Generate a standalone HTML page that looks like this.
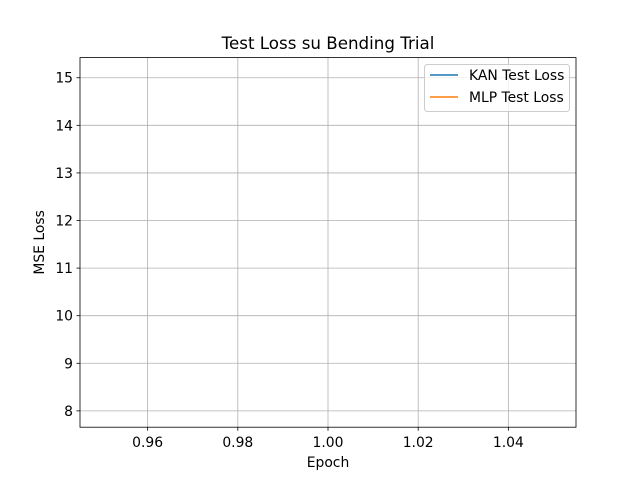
<!DOCTYPE html>
<html><head><meta charset="utf-8"><style>
body{margin:0;background:#fff;}
svg{display:block;font-family:"DejaVu Sans","Liberation Sans",sans-serif;}
</style></head><body>
<svg id="chart" width="640" height="480"></svg>
<script>
const epochs = [1];
const kanLoss = [15.07];
const mlpLoss = [8.01];
const xTicks = [0.96, 0.98, 1.00, 1.02, 1.04];
const yTicks = [8, 9, 10, 11, 12, 13, 14, 15];
const seriesNames = ["KAN Test Loss", "MLP Test Loss"];

const L=80, R=576, T=57.6, B=427.2;
const NS="http://www.w3.org/2000/svg";
const svg=document.getElementById('chart');
function el(tag, attrs, parent){const e=document.createElementNS(NS,tag);for(const k in attrs)e.setAttribute(k,attrs[k]);(parent||svg).appendChild(e);return e;}
const allY=kanLoss.concat(mlpLoss);
let ymin=Math.min(...allY), ymax=Math.max(...allY);
let xmin=Math.min(...epochs), xmax=Math.max(...epochs);
if(xmin===xmax){xmin-=0.05;xmax+=0.05;}
const xr=xmax-xmin, yr=ymax-ymin;
const x0=xmin-0.05*xr, x1=xmax+0.05*xr, y0=ymin-0.05*yr, y1=ymax+0.05*yr;
const sx=v=>L+(v-x0)/(x1-x0)*(R-L);
const sy=v=>B-(v-y0)/(y1-y0)*(B-T);
const FS=13.9;

xTicks.forEach(t=>{
  const x=sx(t);
  const g=el('line',{x1:x,x2:x,y1:T,y2:B,stroke:'#b0b0b0','stroke-width':0.8});
  
  
  el('line',{x1:x,x2:x,y1:B,y2:B+3.5,stroke:'#000','stroke-width':0.8});
  const tx=el('text',{x:x,y:B+20,'text-anchor':'middle','font-size':FS});
  tx.textContent=t.toFixed(2);
  
  
});
yTicks.forEach(t=>{
  const y=sy(t);
  const g=el('line',{x1:L,x2:R,y1:y,y2:y,stroke:'#b0b0b0','stroke-width':0.8});
  
  
  el('line',{x1:L-3.5,x2:L,y1:y,y2:y,stroke:'#000','stroke-width':0.8});
  const tx=el('text',{x:L-7,y:y+5,'text-anchor':'end','font-size':FS});
  tx.textContent=t;
  
  
});
const colors=['#1f77b4','#ff7f0e'];
[kanLoss,mlpLoss].forEach((s,i)=>{
  const d=s.map((v,j)=>(j?'L':'M')+sx(epochs[j])+','+sy(v)).join(' ');
  const p=el('path',{d:d,stroke:colors[i],fill:'none','stroke-width':1.5});
  
  
});
const frame=el('rect',{x:L,y:T,width:R-L,height:B-T,fill:'none',stroke:'#000','stroke-width':0.8});


const title=el('text',{x:(L+R)/2,y:49,'text-anchor':'middle','font-size':16.7});
title.textContent='Test Loss su Bending Trial';


const xl=el('text',{x:(L+R)/2,y:467,'text-anchor':'middle','font-size':FS});
xl.textContent='Epoch';


const yl=el('text',{x:44,y:(T+B)/2,'text-anchor':'middle','font-size':FS,transform:'rotate(-90 44 '+(T+B)/2+')'});
yl.textContent='MSE Loss';


const lg=el('g',{});


el('rect',{x:424.5,y:64.5,width:145,height:47,rx:3,fill:'#fff','fill-opacity':0.8,stroke:'#ccc'},lg);
seriesNames.forEach((n,i)=>{
  const y=75+i*22;
  el('line',{x1:430,x2:458,y1:y,y2:y,stroke:colors[i],'stroke-width':1.5},lg);
  const t=el('text',{x:469,y:y+5,'font-size':FS},lg);
  t.textContent=n;
  
  
});
</script>
</body></html>
